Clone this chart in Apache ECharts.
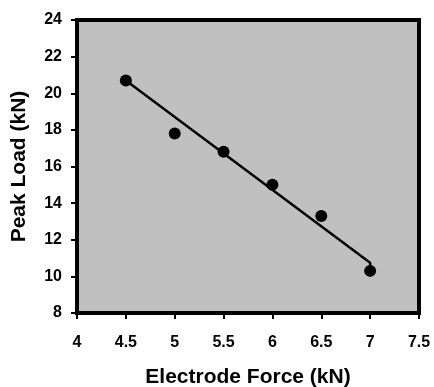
<!DOCTYPE html>
<html><head><meta charset="utf-8">
<script src="https://cdn.jsdelivr.net/npm/echarts@6/dist/echarts.min.js"></script>
<style>html,body{margin:0;padding:0;background:#fff}#c{width:434px;height:387px}</style>
</head><body><div id="c"></div>
<script>
var electrodeForce = [4.5, 5, 5.5, 6, 6.5, 7];
var peakLoad = [20.7, 17.8, 16.8, 15.0, 13.3, 10.3];
var trendX = [4.5, 7, 7];
var trendY = [20.7, 10.75, 10.35];
var xTitle = 'Electrode Force (kN)';
var yTitle = 'Peak Load (kN)';

var chart = echarts.init(document.getElementById('c'), null, {renderer: 'canvas'});
var font = 'Liberation Sans, Arial, sans-serif';
chart.setOption({
  animation: false,
  backgroundColor: '#ffffff',
  grid: {left: 77, right: 15, top: 20, bottom: 74, show: true, outerBoundsMode: 'none', containLabel: false, backgroundColor: '#c0c0c0', borderColor: '#000', borderWidth: 4},
  xAxis: {
    type: 'value', min: 4, max: 7.5, interval: 0.5,
    name: xTitle, nameLocation: 'middle', nameGap: 54,
    nameTextStyle: {fontFamily: font, fontWeight: 'bold', fontSize: 21, color: '#000'},
    axisLine: {show: true, lineStyle: {color: '#000', width: 4}},
    axisTick: {show: true, length: 6, lineStyle: {color: '#000', width: 2}},
    axisLabel: {fontFamily: font, fontWeight: 'bold', fontSize: 16, color: '#000', margin: 22},
    splitLine: {show: false}
  },
  yAxis: {
    type: 'value', min: 8, max: 24, interval: 2,
    name: yTitle, nameLocation: 'middle', nameGap: 47,
    nameTextStyle: {fontFamily: font, fontWeight: 'bold', fontSize: 21, color: '#000'},
    axisLine: {show: true, lineStyle: {color: '#000', width: 4}},
    axisTick: {show: true, length: 6, lineStyle: {color: '#000', width: 2}},
    axisLabel: {fontFamily: font, fontWeight: 'bold', fontSize: 16, color: '#000', margin: 15},
    splitLine: {show: false}
  },
  series: [
    {
      type: 'line', data: trendX.map(function(x, i){return [x, trendY[i]];}),
      symbol: 'none', lineStyle: {color: '#000', width: 2.5}, z: 2
    },
    {
      type: 'scatter', data: electrodeForce.map(function(x, i){return [x, peakLoad[i]];}),
      symbol: 'circle', symbolSize: 12, itemStyle: {color: '#000', opacity: 1}, z: 3
    }
  ]
});
</script></body></html>
